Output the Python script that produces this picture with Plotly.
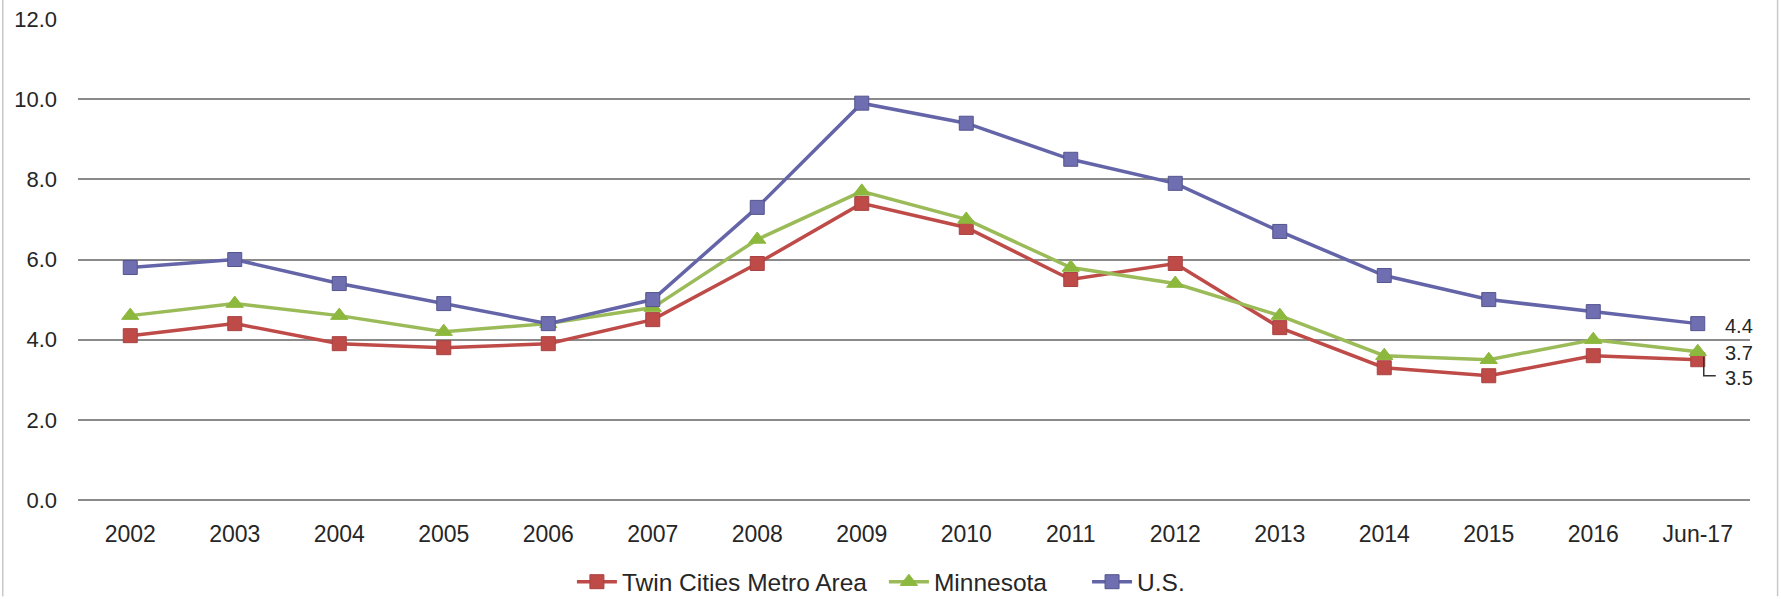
import plotly.graph_objects as go

# Unemployment rate (%) by year
periods = ["2002", "2003", "2004", "2005", "2006", "2007", "2008", "2009",
           "2010", "2011", "2012", "2013", "2014", "2015", "2016", "Jun-17"]
twin_cities = [4.1, 4.4, 3.9, 3.8, 3.9, 4.5, 5.9, 7.4, 6.8, 5.5, 5.9, 4.3, 3.3, 3.1, 3.6, 3.5]
minnesota = [4.6, 4.9, 4.6, 4.2, 4.4, 4.8, 6.5, 7.7, 7.0, 5.8, 5.4, 4.6, 3.6, 3.5, 4.0, 3.7]
us = [5.8, 6.0, 5.4, 4.9, 4.4, 5.0, 7.3, 9.9, 9.4, 8.5, 7.9, 6.7, 5.6, 5.0, 4.7, 4.4]
y_ticks = [0, 2, 4, 6, 8, 10, 12]

FONT = "Liberation Sans, Arial, sans-serif"
TEXT = "#262626"

RED = "#BE4B48"
GREEN = "#9BBB59"
PURPLE = "#6464A8"

fig = go.Figure()
fig.add_trace(go.Scatter(
    x=periods, y=twin_cities, name="Twin Cities Metro Area", mode="lines+markers",
    line=dict(color=RED, width=3.5), legend="legend",
    marker=dict(symbol="square", size=14, color=RED, line=dict(color="#A94240", width=1)),
))
fig.add_trace(go.Scatter(
    x=periods, y=minnesota, name="Minnesota", mode="lines+markers",
    line=dict(color=GREEN, width=3.5), legend="legend2",
    marker=dict(symbol="triangle-up", size=15, color="#8DB83E", line=dict(color="#8DB83E", width=1)),
))
fig.add_trace(go.Scatter(
    x=periods, y=us, name="U.S.", mode="lines+markers",
    line=dict(color=PURPLE, width=3.5), legend="legend3",
    marker=dict(symbol="square", size=14, color="#6E6EB0", line=dict(color="#55558F", width=1)),
))

# End-of-series value labels
last = len(periods) - 1
for vals, dy in ((us, -2), (minnesota, -1), (twin_cities, -18)):
    fig.add_annotation(
        x=last, y=vals[-1], xref="x", yref="y", text=f"{vals[-1]:.1f}",
        showarrow=False, xshift=41, yshift=dy,
        font=dict(family=FONT, size=20, color=TEXT),
    )

# Leader line for the lowest label
fig.add_shape(
    type="path", xref="x", yref="y",
    xsizemode="pixel", ysizemode="pixel", xanchor=last, yanchor=twin_cities[-1],
    path="M6,3 L6,-16 L18,-16",
    line=dict(color="#333333", width=1.5),
)

# Thin frame edges on the left and right of the chart
for xp in (-0.045, 1.0165):
    fig.add_shape(type="line", xref="paper", yref="paper", x0=xp, x1=xp, y0=-0.2, y1=1.04,
                  line=dict(color="#c8c8c8", width=1.5))

legend_style = dict(
    orientation="h", y=-0.170, yanchor="middle", xanchor="left",
    font=dict(family=FONT, size=24.5, color=TEXT),
    itemwidth=40, bgcolor="rgba(0,0,0,0)",
)
fig.update_layout(
    width=1781, height=599,
    margin=dict(l=78, r=31, t=19, b=99, autoexpand=False),
    paper_bgcolor="white", plot_bgcolor="white",
    font=dict(family=FONT, color=TEXT),
    showlegend=True,
    legend=dict(legend_style, x=0.2954),
    legend2=dict(legend_style, x=0.4820),
    legend3=dict(legend_style, x=0.6035),
)
fig.update_xaxes(
    type="category", categoryorder="array", categoryarray=periods,
    range=[-0.5, last + 0.5],
    showgrid=False, showline=False, zeroline=False,
    ticks="", tickfont=dict(family=FONT, size=23, color=TEXT),
    ticklabelstandoff=18,
)
fig.update_yaxes(
    range=[0, 12], tickvals=y_ticks, ticktext=[f"{v:.1f}" for v in y_ticks],
    showgrid=True, gridcolor="#8a8a8a", gridwidth=1.5,
    zeroline=True, zerolinecolor="#8a8a8a", zerolinewidth=1.5,
    showline=False, ticks="",
    tickfont=dict(family=FONT, size=22, color=TEXT),
    ticklabelstandoff=20,
)

fig.write_html("out.html")
